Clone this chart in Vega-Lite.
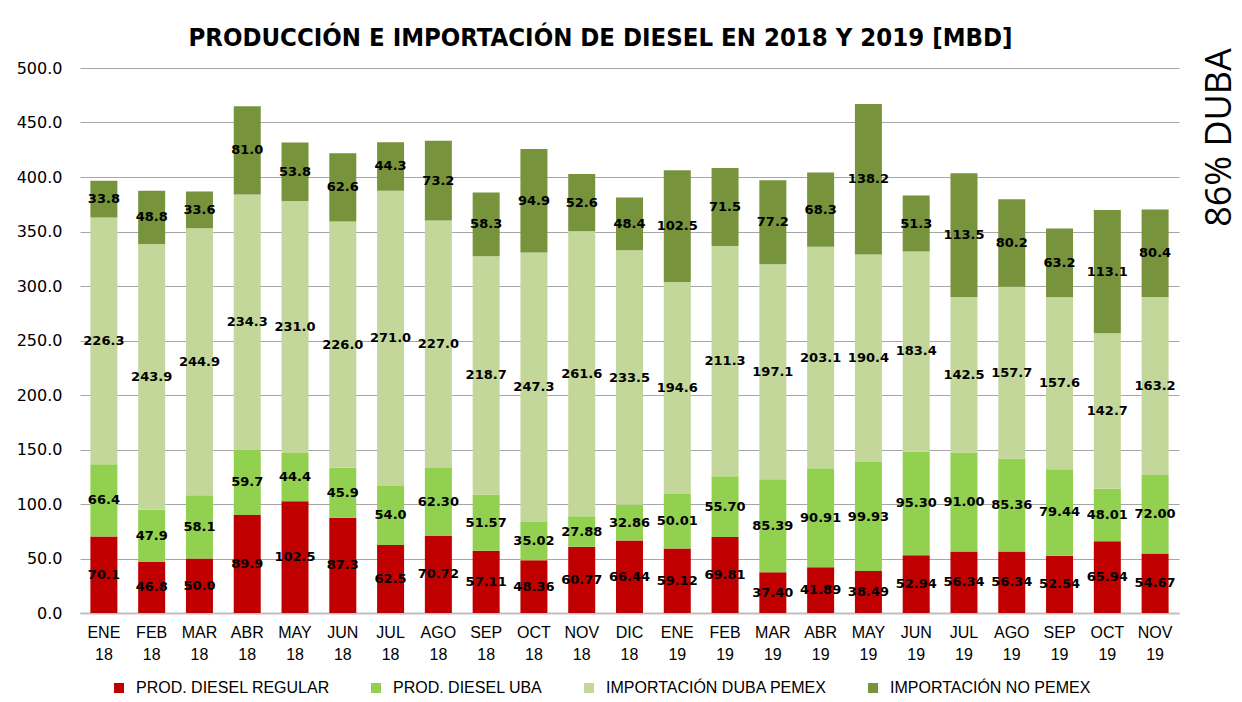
{
  "$schema": "https://vega.github.io/schema/vega-lite/v6.json",
  "width": 1099,
  "height": 545,
  "autosize": {"type": "none"},
  "padding": {"left": 80, "top": 68, "right": 63, "bottom": 89},
  "background": "white",
  "config": {"view": {"stroke": null}},
  "data": {"values": [
    {"mes":"ENE 18","serie":"PROD. DIESEL REGULAR","orden":1,"valor":70.1,"etiqueta":"70.1"},
    {"mes":"ENE 18","serie":"PROD. DIESEL UBA","orden":2,"valor":66.4,"etiqueta":"66.4"},
    {"mes":"ENE 18","serie":"IMPORTACIÓN DUBA PEMEX","orden":3,"valor":226.3,"etiqueta":"226.3"},
    {"mes":"ENE 18","serie":"IMPORTACIÓN NO PEMEX","orden":4,"valor":33.8,"etiqueta":"33.8"},
    {"mes":"FEB 18","serie":"PROD. DIESEL REGULAR","orden":1,"valor":46.8,"etiqueta":"46.8"},
    {"mes":"FEB 18","serie":"PROD. DIESEL UBA","orden":2,"valor":47.9,"etiqueta":"47.9"},
    {"mes":"FEB 18","serie":"IMPORTACIÓN DUBA PEMEX","orden":3,"valor":243.9,"etiqueta":"243.9"},
    {"mes":"FEB 18","serie":"IMPORTACIÓN NO PEMEX","orden":4,"valor":48.8,"etiqueta":"48.8"},
    {"mes":"MAR 18","serie":"PROD. DIESEL REGULAR","orden":1,"valor":50.0,"etiqueta":"50.0"},
    {"mes":"MAR 18","serie":"PROD. DIESEL UBA","orden":2,"valor":58.1,"etiqueta":"58.1"},
    {"mes":"MAR 18","serie":"IMPORTACIÓN DUBA PEMEX","orden":3,"valor":244.9,"etiqueta":"244.9"},
    {"mes":"MAR 18","serie":"IMPORTACIÓN NO PEMEX","orden":4,"valor":33.6,"etiqueta":"33.6"},
    {"mes":"ABR 18","serie":"PROD. DIESEL REGULAR","orden":1,"valor":89.9,"etiqueta":"89.9"},
    {"mes":"ABR 18","serie":"PROD. DIESEL UBA","orden":2,"valor":59.7,"etiqueta":"59.7"},
    {"mes":"ABR 18","serie":"IMPORTACIÓN DUBA PEMEX","orden":3,"valor":234.3,"etiqueta":"234.3"},
    {"mes":"ABR 18","serie":"IMPORTACIÓN NO PEMEX","orden":4,"valor":81.0,"etiqueta":"81.0"},
    {"mes":"MAY 18","serie":"PROD. DIESEL REGULAR","orden":1,"valor":102.5,"etiqueta":"102.5"},
    {"mes":"MAY 18","serie":"PROD. DIESEL UBA","orden":2,"valor":44.4,"etiqueta":"44.4"},
    {"mes":"MAY 18","serie":"IMPORTACIÓN DUBA PEMEX","orden":3,"valor":231.0,"etiqueta":"231.0"},
    {"mes":"MAY 18","serie":"IMPORTACIÓN NO PEMEX","orden":4,"valor":53.8,"etiqueta":"53.8"},
    {"mes":"JUN 18","serie":"PROD. DIESEL REGULAR","orden":1,"valor":87.3,"etiqueta":"87.3"},
    {"mes":"JUN 18","serie":"PROD. DIESEL UBA","orden":2,"valor":45.9,"etiqueta":"45.9"},
    {"mes":"JUN 18","serie":"IMPORTACIÓN DUBA PEMEX","orden":3,"valor":226.0,"etiqueta":"226.0"},
    {"mes":"JUN 18","serie":"IMPORTACIÓN NO PEMEX","orden":4,"valor":62.6,"etiqueta":"62.6"},
    {"mes":"JUL 18","serie":"PROD. DIESEL REGULAR","orden":1,"valor":62.5,"etiqueta":"62.5"},
    {"mes":"JUL 18","serie":"PROD. DIESEL UBA","orden":2,"valor":54.0,"etiqueta":"54.0"},
    {"mes":"JUL 18","serie":"IMPORTACIÓN DUBA PEMEX","orden":3,"valor":271.0,"etiqueta":"271.0"},
    {"mes":"JUL 18","serie":"IMPORTACIÓN NO PEMEX","orden":4,"valor":44.3,"etiqueta":"44.3"},
    {"mes":"AGO 18","serie":"PROD. DIESEL REGULAR","orden":1,"valor":70.72,"etiqueta":"70.72"},
    {"mes":"AGO 18","serie":"PROD. DIESEL UBA","orden":2,"valor":62.30,"etiqueta":"62.30"},
    {"mes":"AGO 18","serie":"IMPORTACIÓN DUBA PEMEX","orden":3,"valor":227.0,"etiqueta":"227.0"},
    {"mes":"AGO 18","serie":"IMPORTACIÓN NO PEMEX","orden":4,"valor":73.2,"etiqueta":"73.2"},
    {"mes":"SEP 18","serie":"PROD. DIESEL REGULAR","orden":1,"valor":57.11,"etiqueta":"57.11"},
    {"mes":"SEP 18","serie":"PROD. DIESEL UBA","orden":2,"valor":51.57,"etiqueta":"51.57"},
    {"mes":"SEP 18","serie":"IMPORTACIÓN DUBA PEMEX","orden":3,"valor":218.7,"etiqueta":"218.7"},
    {"mes":"SEP 18","serie":"IMPORTACIÓN NO PEMEX","orden":4,"valor":58.3,"etiqueta":"58.3"},
    {"mes":"OCT 18","serie":"PROD. DIESEL REGULAR","orden":1,"valor":48.36,"etiqueta":"48.36"},
    {"mes":"OCT 18","serie":"PROD. DIESEL UBA","orden":2,"valor":35.02,"etiqueta":"35.02"},
    {"mes":"OCT 18","serie":"IMPORTACIÓN DUBA PEMEX","orden":3,"valor":247.3,"etiqueta":"247.3"},
    {"mes":"OCT 18","serie":"IMPORTACIÓN NO PEMEX","orden":4,"valor":94.9,"etiqueta":"94.9"},
    {"mes":"NOV 18","serie":"PROD. DIESEL REGULAR","orden":1,"valor":60.77,"etiqueta":"60.77"},
    {"mes":"NOV 18","serie":"PROD. DIESEL UBA","orden":2,"valor":27.88,"etiqueta":"27.88"},
    {"mes":"NOV 18","serie":"IMPORTACIÓN DUBA PEMEX","orden":3,"valor":261.6,"etiqueta":"261.6"},
    {"mes":"NOV 18","serie":"IMPORTACIÓN NO PEMEX","orden":4,"valor":52.6,"etiqueta":"52.6"},
    {"mes":"DIC 18","serie":"PROD. DIESEL REGULAR","orden":1,"valor":66.44,"etiqueta":"66.44"},
    {"mes":"DIC 18","serie":"PROD. DIESEL UBA","orden":2,"valor":32.86,"etiqueta":"32.86"},
    {"mes":"DIC 18","serie":"IMPORTACIÓN DUBA PEMEX","orden":3,"valor":233.5,"etiqueta":"233.5"},
    {"mes":"DIC 18","serie":"IMPORTACIÓN NO PEMEX","orden":4,"valor":48.4,"etiqueta":"48.4"},
    {"mes":"ENE 19","serie":"PROD. DIESEL REGULAR","orden":1,"valor":59.12,"etiqueta":"59.12"},
    {"mes":"ENE 19","serie":"PROD. DIESEL UBA","orden":2,"valor":50.01,"etiqueta":"50.01"},
    {"mes":"ENE 19","serie":"IMPORTACIÓN DUBA PEMEX","orden":3,"valor":194.6,"etiqueta":"194.6"},
    {"mes":"ENE 19","serie":"IMPORTACIÓN NO PEMEX","orden":4,"valor":102.5,"etiqueta":"102.5"},
    {"mes":"FEB 19","serie":"PROD. DIESEL REGULAR","orden":1,"valor":69.81,"etiqueta":"69.81"},
    {"mes":"FEB 19","serie":"PROD. DIESEL UBA","orden":2,"valor":55.70,"etiqueta":"55.70"},
    {"mes":"FEB 19","serie":"IMPORTACIÓN DUBA PEMEX","orden":3,"valor":211.3,"etiqueta":"211.3"},
    {"mes":"FEB 19","serie":"IMPORTACIÓN NO PEMEX","orden":4,"valor":71.5,"etiqueta":"71.5"},
    {"mes":"MAR 19","serie":"PROD. DIESEL REGULAR","orden":1,"valor":37.40,"etiqueta":"37.40"},
    {"mes":"MAR 19","serie":"PROD. DIESEL UBA","orden":2,"valor":85.39,"etiqueta":"85.39"},
    {"mes":"MAR 19","serie":"IMPORTACIÓN DUBA PEMEX","orden":3,"valor":197.1,"etiqueta":"197.1"},
    {"mes":"MAR 19","serie":"IMPORTACIÓN NO PEMEX","orden":4,"valor":77.2,"etiqueta":"77.2"},
    {"mes":"ABR 19","serie":"PROD. DIESEL REGULAR","orden":1,"valor":41.89,"etiqueta":"41.89"},
    {"mes":"ABR 19","serie":"PROD. DIESEL UBA","orden":2,"valor":90.91,"etiqueta":"90.91"},
    {"mes":"ABR 19","serie":"IMPORTACIÓN DUBA PEMEX","orden":3,"valor":203.1,"etiqueta":"203.1"},
    {"mes":"ABR 19","serie":"IMPORTACIÓN NO PEMEX","orden":4,"valor":68.3,"etiqueta":"68.3"},
    {"mes":"MAY 19","serie":"PROD. DIESEL REGULAR","orden":1,"valor":38.49,"etiqueta":"38.49"},
    {"mes":"MAY 19","serie":"PROD. DIESEL UBA","orden":2,"valor":99.93,"etiqueta":"99.93"},
    {"mes":"MAY 19","serie":"IMPORTACIÓN DUBA PEMEX","orden":3,"valor":190.4,"etiqueta":"190.4"},
    {"mes":"MAY 19","serie":"IMPORTACIÓN NO PEMEX","orden":4,"valor":138.2,"etiqueta":"138.2"},
    {"mes":"JUN 19","serie":"PROD. DIESEL REGULAR","orden":1,"valor":52.94,"etiqueta":"52.94"},
    {"mes":"JUN 19","serie":"PROD. DIESEL UBA","orden":2,"valor":95.30,"etiqueta":"95.30"},
    {"mes":"JUN 19","serie":"IMPORTACIÓN DUBA PEMEX","orden":3,"valor":183.4,"etiqueta":"183.4"},
    {"mes":"JUN 19","serie":"IMPORTACIÓN NO PEMEX","orden":4,"valor":51.3,"etiqueta":"51.3"},
    {"mes":"JUL 19","serie":"PROD. DIESEL REGULAR","orden":1,"valor":56.34,"etiqueta":"56.34"},
    {"mes":"JUL 19","serie":"PROD. DIESEL UBA","orden":2,"valor":91.00,"etiqueta":"91.00"},
    {"mes":"JUL 19","serie":"IMPORTACIÓN DUBA PEMEX","orden":3,"valor":142.5,"etiqueta":"142.5"},
    {"mes":"JUL 19","serie":"IMPORTACIÓN NO PEMEX","orden":4,"valor":113.5,"etiqueta":"113.5"},
    {"mes":"AGO 19","serie":"PROD. DIESEL REGULAR","orden":1,"valor":56.34,"etiqueta":"56.34"},
    {"mes":"AGO 19","serie":"PROD. DIESEL UBA","orden":2,"valor":85.36,"etiqueta":"85.36"},
    {"mes":"AGO 19","serie":"IMPORTACIÓN DUBA PEMEX","orden":3,"valor":157.7,"etiqueta":"157.7"},
    {"mes":"AGO 19","serie":"IMPORTACIÓN NO PEMEX","orden":4,"valor":80.2,"etiqueta":"80.2"},
    {"mes":"SEP 19","serie":"PROD. DIESEL REGULAR","orden":1,"valor":52.54,"etiqueta":"52.54"},
    {"mes":"SEP 19","serie":"PROD. DIESEL UBA","orden":2,"valor":79.44,"etiqueta":"79.44"},
    {"mes":"SEP 19","serie":"IMPORTACIÓN DUBA PEMEX","orden":3,"valor":157.6,"etiqueta":"157.6"},
    {"mes":"SEP 19","serie":"IMPORTACIÓN NO PEMEX","orden":4,"valor":63.2,"etiqueta":"63.2"},
    {"mes":"OCT 19","serie":"PROD. DIESEL REGULAR","orden":1,"valor":65.94,"etiqueta":"65.94"},
    {"mes":"OCT 19","serie":"PROD. DIESEL UBA","orden":2,"valor":48.01,"etiqueta":"48.01"},
    {"mes":"OCT 19","serie":"IMPORTACIÓN DUBA PEMEX","orden":3,"valor":142.7,"etiqueta":"142.7"},
    {"mes":"OCT 19","serie":"IMPORTACIÓN NO PEMEX","orden":4,"valor":113.1,"etiqueta":"113.1"},
    {"mes":"NOV 19","serie":"PROD. DIESEL REGULAR","orden":1,"valor":54.67,"etiqueta":"54.67"},
    {"mes":"NOV 19","serie":"PROD. DIESEL UBA","orden":2,"valor":72.00,"etiqueta":"72.00"},
    {"mes":"NOV 19","serie":"IMPORTACIÓN DUBA PEMEX","orden":3,"valor":163.2,"etiqueta":"163.2"},
    {"mes":"NOV 19","serie":"IMPORTACIÓN NO PEMEX","orden":4,"valor":80.4,"etiqueta":"80.4"}
  ]},
  "layer": [
    {
      "mark": {"type": "bar"},
      "encoding": {
        "x": {"field": "mes", "type": "nominal", "sort": null,
          "scale": {"paddingInner": 0.435, "paddingOuter": 0.2175},
          "axis": {"orient": "bottom", "title": null, "labelAngle": 0, "labelExpr": "split(datum.label, ' ')",
            "labelFont": "Liberation Sans", "labelFontSize": 16, "labelColor": "#000000", "labelLineHeight": 22,
            "labelPadding": 11, "ticks": false, "domainColor": "#BFBFBF", "domainWidth": 2, "grid": false}},
        "y": {"field": "valor", "type": "quantitative", "stack": "zero",
          "scale": {"domain": [0, 500], "nice": false},
          "axis": {"orient": "left", "title": null, "values": [0, 50, 100, 150, 200, 250, 300, 350, 400, 450, 500],
            "format": ".1f", "labelFont": "DejaVu Sans", "labelFontSize": 16, "labelColor": "#000000",
            "labelPadding": 18, "ticks": false, "domain": false, "grid": true, "gridColor": "#A6A6A6", "gridWidth": 1}},
        "color": {"field": "serie", "type": "nominal",
          "scale": {"domain": ["PROD. DIESEL REGULAR", "PROD. DIESEL UBA", "IMPORTACIÓN DUBA PEMEX", "IMPORTACIÓN NO PEMEX"],
                    "range": ["#C00000", "#92D050", "#C4D79B", "#77933C"]},
          "legend": {"orient": "none", "legendX": 31, "legendY": 612, "direction": "horizontal", "title": null,
            "symbolType": "square", "symbolSize": 100, "symbolStrokeWidth": 0, "labelFont": "Liberation Sans",
            "labelFontSize": 16, "labelColor": "#000000", "labelOffset": 9, "columnPadding": 38, "labelLimit": 400}},
        "order": {"field": "orden", "type": "quantitative"}
      }
    },
    {
      "mark": {"type": "text", "font": "DejaVu Sans", "fontWeight": "bold", "fontSize": 13, "color": "#000000", "baseline": "middle",
        "dy": {"expr": "(scale('y', 0) - scale('y', datum.valor)) / 2"}},
      "encoding": {
        "x": {"field": "mes", "type": "nominal", "sort": null,
          "axis": {"orient": "top", "title": "PRODUCCIÓN E IMPORTACIÓN DE DIESEL EN 2018 Y 2019 [MBD]",
            "labels": false, "ticks": false, "domain": false, "grid": false,
            "titleX": 520, "titleY": -23, "titleAlign": "center", "titleBaseline": "alphabetic",
            "titleFont": "DejaVu Sans Condensed, Liberation Sans", "titleFontSize": 25.5, "titleFontWeight": "bold", "titleColor": "#000000"}},
        "y": {"field": "valor", "type": "quantitative", "stack": "zero",
          "axis": {"orient": "right", "title": "86% DUBA", "labels": false, "ticks": false, "domain": false, "grid": false,
            "titleAngle": 270, "titleX": 40, "titleY": 69, "titleAlign": "center", "titleBaseline": "middle",
            "titleFont": "Open Sans", "titleFontSize": 36, "titleFontWeight": "normal", "titleColor": "#000000"}},
        "detail": {"field": "serie"},
        "order": {"field": "orden", "type": "quantitative"},
        "text": {"field": "etiqueta"}
      }
    }
  ],
  "resolve": {"axis": {"x": "independent", "y": "independent"}}
}
